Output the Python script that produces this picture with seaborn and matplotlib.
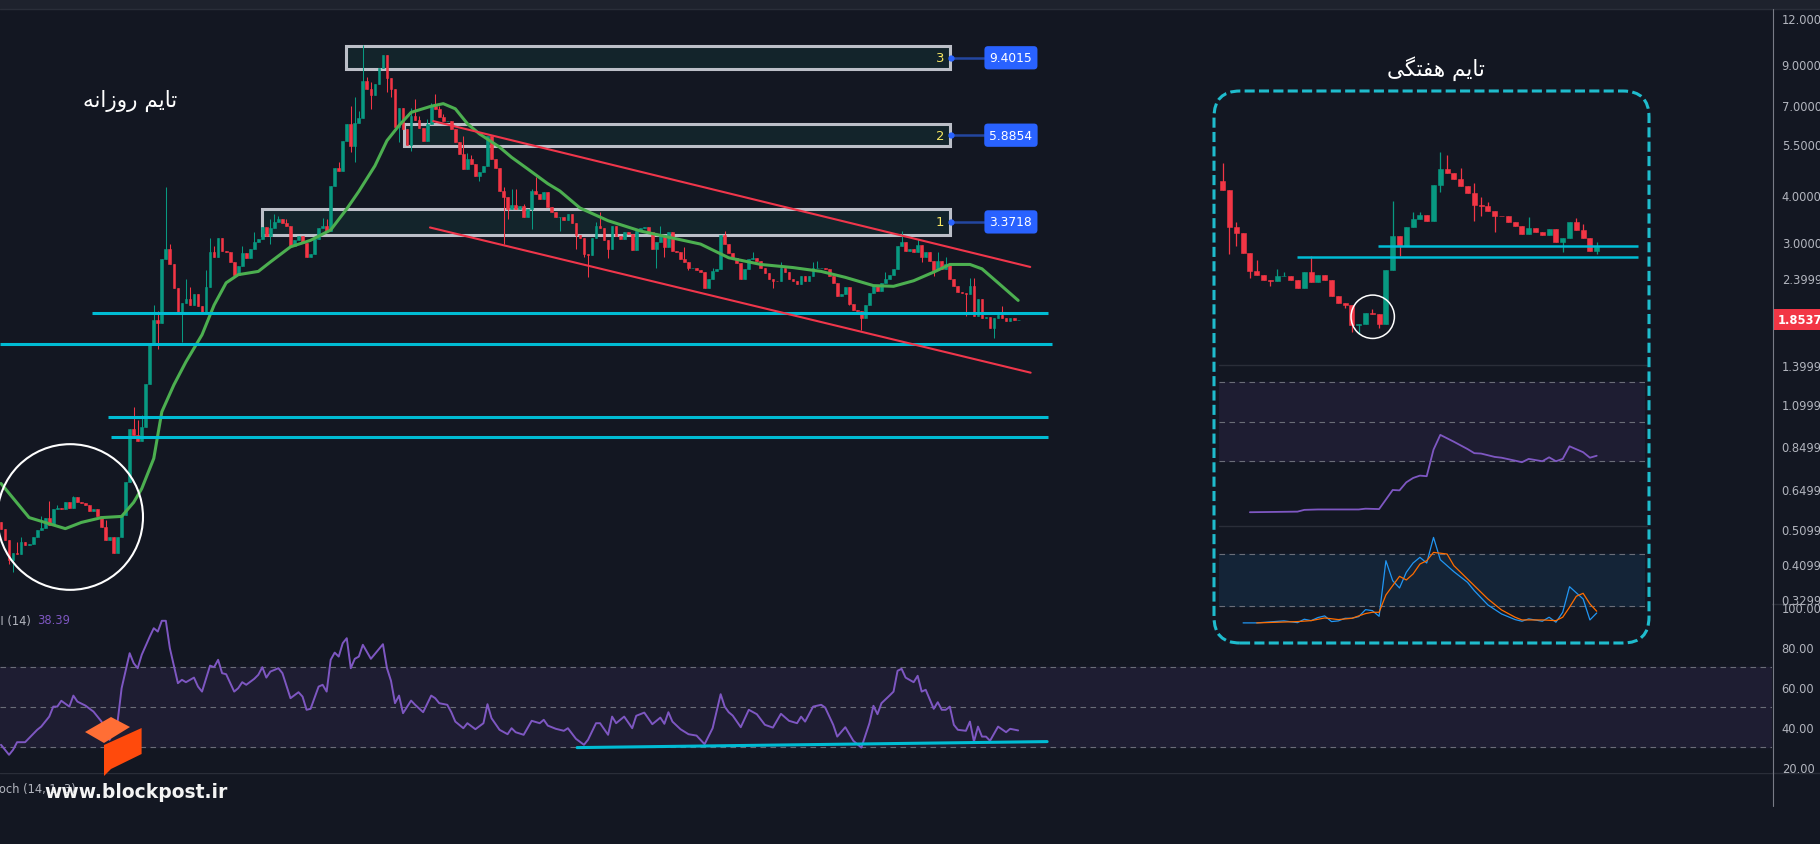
import matplotlib
matplotlib.use("Agg")
import numpy as np
import matplotlib.pyplot as plt
import seaborn as sns
from matplotlib.patches import Rectangle, FancyBboxPatch, Polygon
from matplotlib.lines import Line2D
from matplotlib.transforms import IdentityTransform, blended_transform_factory
from matplotlib.ticker import NullLocator, NullFormatter

# ---------------- daily candles (close per bar, open = previous close)
first_open = 0.53
closes = [
    0.51, 0.475, 0.42, 0.44, 0.437, 0.47, 0.46, 0.465, 0.485, 0.505,
    0.513, 0.543, 0.52, 0.577, 0.58, 0.575, 0.60, 0.58, 0.62, 0.60,
    0.598, 0.59, 0.567, 0.575, 0.55, 0.516, 0.475, 0.485, 0.44, 0.485,
    0.555, 0.68, 0.946, 0.91, 0.875, 0.955, 1.25, 1.60, 1.85, 1.82,
    2.70, 2.88, 2.62, 2.25, 1.95, 2.06, 2.11, 2.03, 2.18, 2.02,
    1.93, 2.27, 2.82, 2.73, 3.08, 2.83, 2.82, 2.65, 2.45, 2.59,
    2.80, 2.71, 2.88, 3.00, 3.06, 3.28, 3.11,
    3.27, 3.40, 3.46, 3.38, 3.31, 2.93, 3.03, 3.11, 2.98, 2.73,
    2.78, 3.05, 3.27, 3.32, 3.20, 4.24, 4.75, 4.65, 5.61, 6.22,
    5.43, 6.24, 6.45, 8.1, 7.7, 7.45, 7.95, 8.8, 9.5, 8.27,
    7.7, 6.1, 6.88, 6.03, 5.47, 6.55, 6.36, 6.08, 5.61, 6.2,
    6.95, 6.82, 6.5, 6.35, 6.35, 6.03, 5.55, 5.15, 4.7, 5.0,
    4.85, 4.5, 4.63, 4.8, 5.77, 5.0, 4.74, 4.1, 3.97, 3.68,
    3.78, 3.68, 3.74, 3.50, 3.68, 4.1, 4.03, 3.9, 4.08, 3.72,
    3.62, 3.5, 3.5, 3.43, 3.56, 3.37, 3.13, 3.07,
    2.79, 2.76, 3.08, 3.30, 3.27, 3.03, 2.88, 3.31, 3.12, 3.06,
    3.19, 3.16, 2.86, 3.21, 3.27, 3.28, 3.19, 2.88, 3.00, 3.12,
    2.91, 3.19, 2.84, 2.82, 2.70, 2.65, 2.55, 2.56, 2.52, 2.49,
    2.25, 2.39, 2.50, 2.54, 3.13, 2.97, 2.81, 2.71, 2.63, 2.39,
    2.54, 2.70, 2.72, 2.66, 2.55, 2.47, 2.38, 2.36, 2.35, 2.55,
    2.49, 2.39, 2.35, 2.31, 2.43, 2.35, 2.43, 2.55, 2.55, 2.56,
    2.54, 2.43, 2.33, 2.15, 2.18, 2.27, 2.05, 1.97, 1.96, 1.87,
    2.03, 2.19, 2.29, 2.21, 2.33, 2.39, 2.44, 2.53, 2.93, 2.99,
    2.84, 2.87, 2.82, 2.95, 2.74, 2.82, 2.66, 2.52, 2.66, 2.54,
    2.61, 2.39, 2.29, 2.20, 2.19, 2.18, 2.29, 1.90, 2.11, 1.87,
    1.89, 1.76, 1.87, 1.91, 1.87, 1.84, 1.87, 1.85, 1.8537,
]
wick_hi = {4: 0.47, 5: 0.485, 10: 0.55, 12: 0.605, 14: 0.59, 18: 0.625, 26: 0.537,
           33: 1.08, 34: 1.0, 35: 1.03, 38: 2.03, 39: 1.96, 41: 4.2, 42: 2.97, 46: 2.39,
           47: 2.27, 51: 2.52, 52: 3.08, 53: 2.93, 60: 2.93, 63: 3.18, 67: 3.46, 68: 3.57,
           69: 3.53, 71: 3.46, 80: 3.48, 81: 3.46, 84: 4.91, 87: 6.94, 88: 7.36, 89: 6.73,
           90: 10.1, 91: 8.3, 92: 8.05, 102: 6.86, 103: 7.26, 104: 6.55, 106: 6.42,
           107: 7.09, 108: 7.5, 109: 6.97, 110: 6.6, 115: 5.78, 116: 5.2, 117: 5.12,
           125: 4.2, 127: 4.17, 128: 4.17, 130: 3.80, 132: 4.17, 133: 4.49, 148: 3.40,
           149: 3.60, 164: 3.30, 170: 2.91, 177: 2.55, 180: 3.2, 187: 2.82, 194: 2.65,
           202: 2.65, 203: 2.66, 220: 2.49, 224: 3.2, 228: 3.06, 233: 2.82, 235: 2.73,
           241: 2.4, 242: 2.4, 248: 1.93, 249: 2.02}
wick_lo = {2: 0.41, 3: 0.39, 39: 1.55, 45: 1.62, 67: 2.97, 87: 5.22, 88: 4.92, 92: 6.83,
           96: 7.6, 97: 7.35, 99: 5.55, 102: 5.27, 119: 4.36, 125: 2.97, 126: 3.46,
           132: 3.25, 139: 3.20, 143: 2.88, 145: 2.74, 146: 2.42, 151: 2.71, 163: 2.55,
           165: 2.73, 171: 2.52, 192: 2.25, 211: 2.03, 214: 1.74, 229: 2.65, 232: 2.43,
           240: 1.90, 247: 1.66}

# moving average (green line)
ma_bar = [0, 7, 16, 20, 25, 30, 33, 35, 38, 40, 43, 46, 50, 53, 56, 59, 64, 67, 72, 77,
          82, 86, 89, 93, 96, 99, 102, 107, 110, 113, 116, 119, 124, 127, 131, 136, 139,
          144, 151, 159, 166, 174, 181, 189, 197, 204, 210, 217, 222, 227, 232, 236, 241,
          244, 248, 253]
ma_val = [0.674, 0.546, 0.51, 0.53, 0.546, 0.55, 0.60, 0.653, 0.787, 1.05, 1.24, 1.43,
          1.69, 2.03, 2.33, 2.45, 2.50, 2.65, 2.91, 3.03, 3.23, 3.68, 4.10, 4.80, 5.61,
          6.16, 6.68, 6.94, 7.05, 6.83, 6.23, 5.85, 5.39, 5.06, 4.71, 4.30, 4.11, 3.70,
          3.42, 3.21, 3.09, 2.96, 2.72, 2.61, 2.56, 2.50, 2.41, 2.29, 2.28, 2.36, 2.49,
          2.61, 2.61, 2.54, 2.33, 2.09]

# RSI (14)
rsi_bar = [0, 2, 3, 4, 6, 9, 10, 12, 13, 14, 15, 17, 18, 19, 21, 23, 25, 26, 27, 29,
           30, 32, 33, 34, 35, 37, 38, 39, 40, 41, 42, 44, 45, 46, 48, 49, 50, 52, 53, 54,
           55, 56, 58, 59, 60, 61, 63, 64, 65, 66, 67, 69, 70, 72, 74, 75, 76, 77, 79, 80,
           81, 82, 83, 84, 85, 86, 87, 88, 89, 90, 92, 95, 96, 97, 98, 99, 100, 102, 103,
           105, 107, 108, 109, 111, 112, 113, 115, 116, 118, 120, 121, 122, 124, 126, 127,
           128, 130, 132, 134, 135, 136, 138, 140, 141, 143, 145, 146, 148, 149, 151, 152,
           153, 155, 157, 158, 160, 162, 164, 165, 166, 167, 169, 171, 173, 175, 177, 179,
           180, 181, 182, 184, 186, 188, 190, 192, 194, 196, 198, 199, 200, 202, 204, 205,
           207, 208, 210, 212, 214, 216, 217, 218, 219, 221, 222, 223, 224, 225, 227, 228,
           229, 230, 232, 233, 234, 235, 236, 237, 238, 240, 241, 242, 243, 244, 245, 246,
           248, 250, 251, 253]
rsi_val = [31.2, 26.2, 28.7, 32.5, 32.5, 38.7, 40.3, 45.3, 50.3, 50.3, 53.2, 50.3, 55.8,
           52.8, 50.8, 47.8, 42.8, 37.8, 33.7, 42.8, 59.5, 77.0, 72.0, 69.5, 76.2, 85.3,
           89.5, 87.8, 93.2, 93.2, 79.5, 62.0, 63.7, 62.5, 64.8, 60.3, 57.8, 70.8, 70.0,
           73.7, 67.0, 66.5, 57.8, 59.5, 62.5, 61.2, 64.2, 66.2, 70.0, 64.8, 67.8, 69.5,
           67.0, 54.5, 57.5, 55.3, 48.7, 49.2, 60.3, 61.2, 57.8, 73.7, 77.3, 75.3, 82.0,
           84.5, 69.5, 74.2, 75.3, 81.2, 74.2, 81.5, 69.5, 63.2, 52.0, 55.8, 47.0, 53.3,
           51.2, 47.5, 55.8, 54.5, 52.0, 51.2, 47.5, 42.8, 39.5, 42.0, 39.0, 42.0, 51.5,
           44.5, 38.7, 36.5, 39.5, 37.5, 36.2, 43.2, 42.0, 43.7, 40.8, 39.2, 38.2, 39.5,
           34.2, 31.2, 33.7, 42.0, 42.0, 36.2, 45.3, 42.0, 45.3, 39.5, 45.7, 47.3, 41.5,
           44.8, 41.7, 47.5, 42.8, 39.0, 36.5, 35.8, 31.5, 39.5, 56.5, 50.3, 47.5, 45.8,
           40.0, 48.7, 46.5, 41.2, 39.8, 46.7, 43.2, 42.0, 45.3, 42.8, 50.3, 51.2, 49.8,
           41.2, 35.3, 40.0, 33.2, 29.8, 42.0, 50.7, 46.5, 52.0, 55.8, 57.8, 68.2, 69.2,
           64.8, 62.5, 65.7, 57.8, 58.7, 49.2, 52.5, 48.7, 48.7, 50.3, 41.2, 38.7, 38.2,
           42.8, 32.8, 40.3, 35.3, 35.3, 33.2, 40.3, 37.5, 39.2, 38.39]

# drawings on the daily chart
zone_names = ['3', '2', '1']
zone_prices = ['9.4015', '5.8854', '3.3718']
zone_top = [10.05, 6.21, 3.67]
zone_bottom = [8.72, 5.42, 3.14]
zone_start = [85.8, 100.2, 64.9]
zone_end = 236.1
level_prices = [1.93, 1.60, 1.018, 0.90]
level_start = [22.6, -0.25, 26.6, 27.4]
level_end = [260.4, 261.4, 260.4, 260.4]
chan_up_bar, chan_up = [107.5, 256.0], [6.33, 2.57]
chan_lo_bar, chan_lo = [106.7, 256.1], [3.28, 1.337]
rsi_trend_bar, rsi_trend = [143.3, 260.2], [29.8, 32.8]
price_ticks = [12, 9, 7, 5.5, 4, 3, 2.3999, 1.3999, 1.0999, 0.8499, 0.6499, 0.5099, 0.4099, 0.3299]
rsi_ticks = [100, 80, 60, 40, 20]
last_price = 1.8537

# ---------------- weekly inset
wk_first_open = 6.13
wk_closes = [5.21, 2.74, 2.45, 1.735, 1.25, 1.17, 1.08, 1.05, 1.145, 1.16, 1.08, 0.93,
             1.23, 1.03, 1.18, 1.08, 0.816, 0.713, 0.697, 0.488, 0.496, 0.598, 0.588,
             0.496, 1.287, 2.31, 1.96, 2.71, 3.13, 3.36, 3.04, 5.72, 7.53, 6.98, 6.32,
             5.62, 4.91, 4.03, 3.96, 3.62, 3.32, 3.30, 2.95, 2.75, 2.41, 2.66, 2.51, 2.38,
             2.63, 2.10, 2.23, 2.95, 2.58, 2.24, 1.79, 1.905]
wk_hi = {0: 8.37, 2: 2.99, 5: 1.53, 8: 1.30, 9: 1.23, 13: 1.63, 22: 0.645, 25: 4.32,
         28: 3.52, 29: 3.56, 32: 10.2, 33: 9.62, 35: 7.62, 37: 5.86, 38: 4.58, 39: 4.24,
         45: 3.22, 52: 3.17, 53: 2.87, 55: 2.08}
wk_lo = {1: 1.69, 2: 1.96, 4: 1.12, 7: 0.97, 18: 0.653, 19: 0.434, 20: 0.417, 23: 0.46,
         26: 1.65, 32: 5.0, 37: 3.04, 38: 3.32, 40: 2.48, 50: 1.77, 55: 1.69}
wk_levels = [1.96, 1.617]
wk_level_start = [22.8, 10.9]
wk_level_end = 61.0
wk_ind_bar = [4, 11, 12, 14, 20, 21, 23, 25, 26, 27, 28, 29, 30, 31, 32, 34, 36, 37, 38,
              40, 41, 43, 44, 45, 47, 48, 49, 50, 51, 53, 54, 55]
wk_ind_val = [4.0, 4.3, 5.2, 5.4, 5.4, 5.8, 5.6, 15.3, 15.1, 19.2, 21.4, 22.6, 22.3, 35.8,
              43.3, 39.8, 36.1, 34.0, 33.8, 32.1, 31.7, 30.2, 29.4, 31.1, 29.9, 31.9, 29.9,
              31.1, 37.5, 34.5, 31.7, 32.7]
wk_k_bar = [3, 5, 9, 11, 12, 13, 14, 15, 16, 17, 18, 19, 20, 21, 22, 23, 24, 25, 26, 27,
            28, 29, 30, 31, 32, 34, 36, 37, 39, 41, 43, 44, 45, 47, 48, 49, 50, 51, 53, 54, 55]
wk_k_val = [0.9, 0.9, 3.2, 1.2, 5.1, 3.5, 7.0, 8.9, 2.4, 3.2, 6.2, 6.2, 8.1, 16.1, 15.0,
            8.5, 72.3, 49.4, 41.0, 59.0, 69.7, 76.2, 69.7, 99.1, 73.5, 59.7, 47.5, 37.9,
            21.5, 11.2, 4.7, 2.8, 5.5, 2.8, 7.4, 1.7, 13.1, 42.5, 28.4, 4.3, 12.3]
wk_d_bar = [5, 11, 13, 15, 17, 19, 21, 22, 23, 24, 26, 27, 28, 29, 30, 31, 33, 34, 36,
            39, 41, 43, 44, 47, 49, 50, 51, 52, 53, 54, 55]
wk_d_val = [0.9, 2.4, 3.5, 6.6, 4.7, 6.2, 11.6, 13.1, 13.1, 33.0, 54.4, 50.2, 57.1, 68.5,
            72.3, 81.9, 80.0, 66.6, 51.3, 28.4, 15.8, 7.4, 4.3, 4.3, 3.5, 7.4, 18.9, 31.5,
            34.9, 22.7, 14.3]

# Persian titles, written in presentation forms (visual order)
daily_title = "\uFEEA\uFEE7\uFE8D\uFEAF\uFEED\uFEAD \uFEE2\uFBFE\uFE8E\uFE97"   # تایم روزانه
weekly_title = "\uFBFD\uFB95\uFE98\uFED4\uFEEB \uFEE2\uFBFE\uFE8E\uFE97"        # تایم هفتگی

# ---------------- style
W, H = 1820, 845
BG = '#131722'
GREEN, RED = '#089981', '#f23645'
CYAN = '#00bcd4'
MA_GREEN = '#4caf50'
PURPLE = '#7e57c2'
GRID = '#2a2e39'
TXT = '#b2b5be'

sns.set_theme(style='dark', rc={'axes.facecolor': BG, 'figure.facecolor': BG,
                                'axes.grid': False, 'savefig.facecolor': BG})
plt.rcParams['font.family'] = ['DejaVu Sans']

fig = plt.figure(figsize=(W / 100, H / 100), dpi=100)


def panel(x0, y0, x1, y1, z=1):
    a = fig.add_axes([x0 / W, 1 - y1 / H, (x1 - x0) / W, (y1 - y0) / H], zorder=z)
    a.set_facecolor(BG)
    for s in a.spines.values():
        s.set_visible(False)
    a.set_xticks([])
    a.tick_params(axis='both', length=0)
    return a


def ftext(x, y, s, **kw):
    return fig.text(x / W, 1 - y / H, s, **kw)


def fline(xs, ys, **kw):
    fig.add_artist(Line2D([x / W for x in xs], [1 - y / H for y in ys],
                          transform=fig.transFigure, **kw))


def candles(a, o0, cl, hi, lo, width, wick_lw):
    c = np.asarray(cl, float)
    o = np.r_[o0, c[:-1]]
    h = np.maximum(o, c)
    l = np.minimum(o, c)
    for i, v in hi.items():
        h[i] = max(h[i], v)
    for i, v in lo.items():
        l[i] = min(l[i], v)
    x = np.arange(len(c))
    col = np.where(c >= o, GREEN, RED)
    a.vlines(x, l, h, colors=col, linewidth=wick_lw, zorder=3)
    a.bar(x, np.abs(c - o), bottom=np.minimum(o, c), width=width, color=col,
          edgecolor=col, linewidth=0.4, zorder=3)


# ---------------- daily price panel
ax = panel(0, 10, 1772, 605)
ax.set_yscale('log')
ax.set_xlim(-0.25, 440.5)
ax.set_ylim(0.3201, 12.655)
ax.yaxis.set_minor_locator(NullLocator())
ax.yaxis.set_minor_formatter(NullFormatter())
ax.set_yticks(price_ticks)
ax.set_yticklabels([f'{v:.4f}' for v in price_ticks])
ax.yaxis.tick_right()
ax.tick_params(axis='y', labelsize=8.3, labelcolor=TXT, pad=7, length=0)

for name, lab, top, bot, x0 in zip(zone_names, zone_prices, zone_top, zone_bottom, zone_start):
    ax.add_patch(Rectangle((x0, bot), zone_end - x0, top - bot, facecolor='#13242b',
                           edgecolor='#bcbfc8', linewidth=2.2, zorder=2))
    mid = np.sqrt(top * bot)
    ax.text(233.6, mid, name, color='#f5e663', fontsize=9.5, ha='center', va='center', zorder=6)
    ax.plot([zone_end, 244.5], [mid, mid], color='#2346a0', lw=1.8, zorder=5)
    ax.plot([zone_end + 0.3], [mid], 'o', ms=3.5, color='#2962ff', zorder=6)
    ax.text(251.2, mid, lab, color='white', fontsize=8.8, ha='center', va='center', zorder=7,
            bbox=dict(boxstyle='round,pad=0.42,rounding_size=0.3', fc='#2962ff', ec='none'))

candles(ax, first_open, closes, wick_hi, wick_lo, 0.68, 0.75)
sns.lineplot(x=ma_bar, y=ma_val, ax=ax, color=MA_GREEN, linewidth=2.2, zorder=4)
ax.hlines(level_prices, level_start, level_end, color=CYAN, linewidth=2.2, zorder=5)
ax.plot(chan_up_bar, chan_up, color='#f0364b', lw=1.5, zorder=5)
ax.plot(chan_lo_bar, chan_lo, color='#f0364b', lw=1.5, zorder=5)
ax.scatter([17.2], [0.548], s=11000, facecolors='none', edgecolors='white',
           linewidths=1.5, zorder=6, clip_on=False)
ax.set_xlabel('')
ax.set_ylabel('')

tr = blended_transform_factory(ax.transAxes, ax.transData)
ax.text(1.003, last_price, f'{last_price:.4f}', transform=tr, color='white',
        fontsize=8.3, fontweight='bold', ha='left', va='center', clip_on=False, zorder=8,
        bbox=dict(boxstyle='square,pad=0.35', fc=RED, ec='none'))

# ---------------- daily RSI panel
rsi = panel(0, 605, 1772, 774)
rsi.set_xlim(-0.25, 440.5)
rsi.set_ylim(17.1, 101.6)
rsi.axhspan(30, 70, color='#1e1d32', zorder=0)
for lv in (70, 50, 30):
    rsi.axhline(lv, color='#6a6d78', lw=0.8, dashes=(5, 4), zorder=1)
sns.lineplot(x=rsi_bar, y=rsi_val, ax=rsi, color=PURPLE, linewidth=1.4, zorder=3)
rsi.plot(rsi_trend_bar, rsi_trend, color=CYAN, lw=2.2, zorder=4)
rsi.set_yticks(rsi_ticks)
rsi.set_yticklabels([f'{v:.2f}' for v in rsi_ticks])
rsi.yaxis.tick_right()
rsi.tick_params(axis='y', labelsize=8.3, labelcolor=TXT, pad=7, length=0)
rsi.set_xlabel('')
rsi.set_ylabel('')

# ---------------- weekly inset
wk = panel(1219, 100, 1645, 366, z=2)
wk.set_yscale('log')
wk.set_xlim(-0.544, 62.1)
wk.set_ylim(0.242, 25.7)
wk.yaxis.set_minor_locator(NullLocator())
wk.set_yticks([])
candles(wk, wk_first_open, wk_closes, wk_hi, wk_lo, 0.72, 0.9)
wk.hlines(wk_levels, wk_level_start, wk_level_end, color=CYAN, linewidth=1.8, zorder=5)
wk.scatter([22.06], [0.564], s=975, facecolors='none', edgecolors='white',
           linewidths=1.1, zorder=6)

wr = panel(1219, 366, 1645, 527, z=2)
wr.set_xlim(-0.544, 62.1)
wr.set_ylim(-3, 78.8)
wr.set_yticks([])
wr.axhspan(30, 70, color='#1e1d32', zorder=0)
for lv in (70, 50, 30):
    wr.axhline(lv, color='#6a6d78', lw=0.8, dashes=(5, 4), zorder=1)
sns.lineplot(x=wk_ind_bar, y=wk_ind_val, ax=wr, color=PURPLE, linewidth=1.3, zorder=3)
wr.set_xlabel('')
wr.set_ylabel('')

ws = panel(1219, 527, 1645, 640, z=2)
ws.set_xlim(-0.544, 62.1)
ws.set_ylim(-17.6, 112.2)
ws.set_yticks([])
ws.axhspan(20, 80, color='#142437', zorder=0)
for lv in (80, 20):
    ws.axhline(lv, color='#6a6d78', lw=0.8, dashes=(5, 4), zorder=1)
sns.lineplot(x=wk_k_bar, y=wk_k_val, ax=ws, color='#2196f3', linewidth=0.9, zorder=3)
sns.lineplot(x=wk_d_bar, y=wk_d_val, ax=ws, color='#ff6d00', linewidth=0.9, zorder=3)
ws.set_xlabel('')
ws.set_ylabel('')

# ---------------- frame, separators, header
fig.add_artist(Rectangle((0, 1 - 10 / H), 1, 10 / H, transform=fig.transFigure,
                         facecolor='#1e222d', edgecolor='none', zorder=5))
fline([0, W], [10, 10], color=GRID, lw=1, zorder=5)
fline([0, W], [605, 605], color=GRID, lw=1, zorder=0.5)
fline([0, W], [774, 774], color=GRID, lw=1, zorder=0.5)
fline([1772.5, 1772.5], [10, 807], color='#787b86', lw=0.8, zorder=5)
fline([1219, 1647], [366, 366], color=GRID, lw=1, zorder=5)
fline([1219, 1647], [527, 527], color=GRID, lw=1, zorder=5)

frame = FancyBboxPatch((1214, H - 644), 435, 552, boxstyle='round,pad=0,rounding_size=26',
                       transform=IdentityTransform(), facecolor='none', edgecolor='#1fbccd',
                       linewidth=2.2, linestyle=(0, (3.3, 1.4)), zorder=6)
fig.add_artist(frame)

ftext(130, 101, daily_title, color='white', fontsize=15.5, ha='center', va='center')
ftext(1436, 69, weekly_title, color='white', fontsize=15.5, ha='center', va='center')

# indicator headers and watermark
ftext(31, 621, 'RSI (14)', color=TXT, fontsize=8.3, ha='right', va='center')
ftext(37, 621, '38.39', color=PURPLE, fontsize=8.3, ha='left', va='center')
ftext(-13, 790, 'Stoch (14, 1, 3)', color=TXT, fontsize=8.3, ha='left', va='center')

top_face = [(85, 733), (111, 718), (130, 728), (104, 744)]
side_face = [(104, 746), (141.6, 729), (141.6, 755), (111, 770), (104, 777)]
fig.add_artist(Polygon([(x / W, 1 - y / H) for x, y in top_face], closed=True,
                       transform=fig.transFigure, facecolor='#ff6e35', edgecolor='none', zorder=6))
fig.add_artist(Polygon([(x / W, 1 - y / H) for x, y in side_face], closed=True,
                       transform=fig.transFigure, facecolor='#ff4a0c', edgecolor='none', zorder=6))
ftext(44, 793, 'www.blockpost.ir', color='#f4f4f4', fontsize=13.5, fontweight='bold',
      ha='left', va='center', zorder=7)

fig.savefig('out.png', dpi=100, facecolor=BG)
